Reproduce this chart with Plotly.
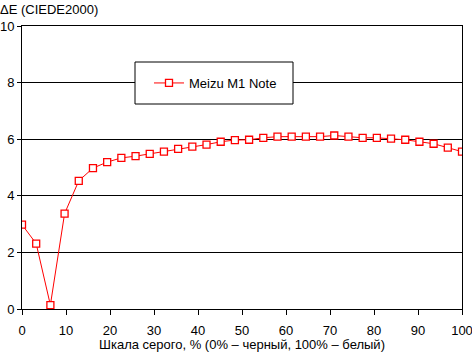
import plotly.graph_objects as go

gray_pct = [i * 100 / 31 for i in range(32)]
delta_e = [2.98, 2.31, 0.14, 3.37, 4.53, 4.98, 5.19, 5.34, 5.40, 5.48, 5.56, 5.66,
           5.74, 5.81, 5.91, 5.97, 5.98, 6.05, 6.09, 6.09, 6.09, 6.09, 6.13, 6.09,
           6.05, 6.05, 6.02, 5.98, 5.91, 5.84, 5.70, 5.56]
series_name = "Meizu M1 Note"
x_ticks = [0, 10, 20, 30, 40, 50, 60, 70, 80, 90, 100]
y_ticks = [0, 2, 4, 6, 8, 10]

FONT = "Arial, Liberation Sans, sans-serif"
FS = 13
W, H = 472, 352
L, R, T, B = 22, 10, 26, 43
pw, ph = W - L - R, H - T - B

fig = go.Figure()
fig.add_trace(go.Scatter(
    x=gray_pct, y=delta_e, name=series_name, mode="lines+markers",
    line=dict(color="#FF0000", width=1),
    marker=dict(symbol="square", size=7, color="white",
                line=dict(color="#FF0000", width=1.3)),
))

def px_x(p):
    return (p - L) / pw

def px_y(p):
    return (H - B - p) / ph

fig.add_shape(type="rect", xref="paper", yref="paper",
              x0=px_x(135), x1=px_x(293), y0=px_y(104), y1=px_y(62),
              line=dict(color="black", width=1), fillcolor="white", layer="above")

fig.update_layout(
    width=W, height=H,
    margin=dict(l=L, r=R, t=T, b=B, autoexpand=False),
    paper_bgcolor="white", plot_bgcolor="white",
    font=dict(family=FONT, size=FS, color="black"),
    showlegend=True,
    legend=dict(x=px_x(149), y=px_y(83), xanchor="left", yanchor="middle",
                bgcolor="rgba(0,0,0,0)", borderwidth=0,
                font=dict(family=FONT, size=FS, color="black")),
    title=dict(text="ΔE (CIEDE2000)", x=0, xref="container", xanchor="left",
               y=1 - 9 / H, yref="container", yanchor="middle",
               font=dict(family=FONT, size=FS, color="black")),
    xaxis=dict(range=[0, 100], tickvals=x_ticks, showgrid=False, automargin=False,
               showline=True, linecolor="black", linewidth=1, mirror=True,
               ticks="outside", ticklen=5, tickcolor="black",
               ticklabelstandoff=4, ticklabeloverflow="allow",
               zeroline=False, fixedrange=True,
               title=dict(text="Шкала серого, % (0% – черный, 100% – белый)",
                          standoff=2, font=dict(family=FONT, size=FS))),
    yaxis=dict(range=[0, 10], tickvals=y_ticks, showgrid=True, automargin=False,
               gridcolor="black", gridwidth=1,
               showline=True, linecolor="black", linewidth=1, mirror=True,
               ticks="outside", ticklen=4, tickcolor="black",
               ticklabeloverflow="allow",
               zeroline=False, fixedrange=True),
)

fig.write_html("out.html")
